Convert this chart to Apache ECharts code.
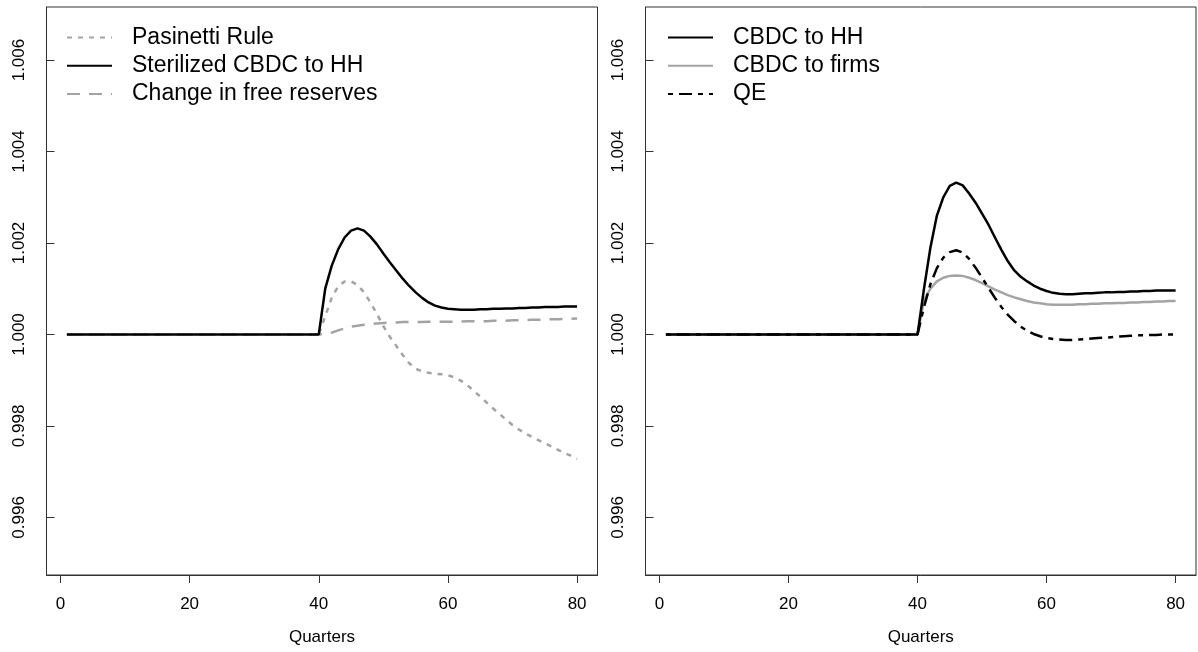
<!DOCTYPE html>
<html>
<head>
<meta charset="utf-8">
<script src="https://cdn.jsdelivr.net/npm/echarts@6/dist/echarts.min.js"></script>
<style>
html,body{margin:0;padding:0;background:#fff;}
#chart{width:1198px;height:652px;}
</style>
</head>
<body>
<div id="chart"></div>
<script>
// ---- data ----
var quarters = [1,2,3,4,5,6,7,8,9,10,11,12,13,14,15,16,17,18,19,20,
  21,22,23,24,25,26,27,28,29,30,31,32,33,34,35,36,37,38,39,40,
  41,42,43,44,45,46,47,48,49,50,51,52,53,54,55,56,57,58,59,60,
  61,62,63,64,65,66,67,68,69,70,71,72,73,74,75,76,77,78,79,80];
var xTicks = [0, 20, 40, 60, 80];
var yTicks = [0.996, 0.998, 1.000, 1.002, 1.004, 1.006];

// Left panel
var pasinetti = [1,1,1,1,1,1,1,1,1,1,1,1,1,1,1,1,1,1,1,1,
  1,1,1,1,1,1,1,1,1,1,1,1,1,1,1,1,1,1,1,1,
  1.0004,1.0008,1.00105,1.00116,1.00116,1.00108,1.00092,1.0007,1.00045,1.00018,
  0.99995,0.99975,0.99955,0.99937,0.99925,0.99919,0.99916,0.99914,0.99913,0.99911,
  0.99906,0.99899,0.99889,0.99877,0.99864,0.99851,0.99838,0.99826,0.99814,0.99802,
  0.99792,0.99783,0.99776,0.99769,0.99762,0.99755,0.99748,0.99741,0.99735,0.99728];
var sterilized = [1,1,1,1,1,1,1,1,1,1,1,1,1,1,1,1,1,1,1,1,
  1,1,1,1,1,1,1,1,1,1,1,1,1,1,1,1,1,1,1,1,
  1.0010,1.0015,1.00186,1.00212,1.00227,1.00232,1.00227,1.00214,1.00197,1.00177,
  1.00158,1.0014,1.00122,1.00106,1.00092,1.0008,1.0007,1.00063,1.00059,1.00056,
  1.00055,1.00054,1.00054,1.00054,1.00055,1.00055,1.00056,1.00056,1.00057,1.00057,
  1.00058,1.00058,1.00059,1.00059,1.0006,1.0006,1.0006,1.00061,1.00061,1.00061];
var freeReserves = [1,1,1,1,1,1,1,1,1,1,1,1,1,1,1,1,1,1,1,1,
  1,1,1,1,1,1,1,1,1,1,1,1,1,1,1,1,1,1,1,1,
  1.00001,1.00004,1.00009,1.00013,1.00017,1.00019,1.00021,1.00023,1.00024,1.00025,
  1.00026,1.00026,1.00027,1.00027,1.00027,1.00027,1.00028,1.00028,1.00028,1.00028,
  1.00028,1.00028,1.00029,1.00029,1.00029,1.00029,1.0003,1.0003,1.0003,1.00031,
  1.00031,1.00031,1.00032,1.00032,1.00033,1.00033,1.00033,1.00034,1.00034,1.00035];

// Right panel
var cbdcHH = [1,1,1,1,1,1,1,1,1,1,1,1,1,1,1,1,1,1,1,1,
  1,1,1,1,1,1,1,1,1,1,1,1,1,1,1,1,1,1,1,1,
  1.0010,1.0019,1.0026,1.0030,1.00325,1.00332,1.00326,1.00308,1.00288,1.00264,
  1.0024,1.00212,1.00185,1.0016,1.0014,1.00126,1.00116,1.00107,1.001,1.00095,
  1.00091,1.00089,1.00088,1.00088,1.00089,1.0009,1.0009,1.00091,1.00092,1.00092,
  1.00093,1.00093,1.00094,1.00094,1.00095,1.00095,1.00096,1.00096,1.00096,1.00096];
var cbdcFirms = [1,1,1,1,1,1,1,1,1,1,1,1,1,1,1,1,1,1,1,1,
  1,1,1,1,1,1,1,1,1,1,1,1,1,1,1,1,1,1,1,1,
  1.00075,1.001,1.00116,1.00124,1.00128,1.00129,1.00128,1.00124,1.00119,1.00112,
  1.00105,1.00098,1.00092,1.00086,1.00081,1.00077,1.00073,1.0007,1.00068,1.00066,
  1.00065,1.00065,1.00065,1.00065,1.00066,1.00066,1.00067,1.00067,1.00068,1.00068,
  1.00069,1.00069,1.0007,1.0007,1.00071,1.00071,1.00072,1.00072,1.00073,1.00073];
var qe = [1,1,1,1,1,1,1,1,1,1,1,1,1,1,1,1,1,1,1,1,
  1,1,1,1,1,1,1,1,1,1,1,1,1,1,1,1,1,1,1,1,
  1.0006,1.0011,1.00145,1.00168,1.0018,1.00184,1.00179,1.00165,1.00146,1.00124,
  1.00102,1.0008,1.0006,1.00043,1.00029,1.00017,1.00008,1.00001,0.99996,0.99992,
  0.9999,0.99989,0.99988,0.99988,0.99989,0.9999,0.99991,0.99992,0.99993,0.99994,
  0.99995,0.99996,0.99997,0.99998,0.99998,0.99999,0.99999,1.0,1.0,1.0];

function pairs(vals){ return quarters.map(function(q,i){ return [q, vals[i]]; }); }

var FONT = '"Liberation Sans", Arial, Helvetica, sans-serif';
var GRAY = '#a3a3a3';
var YMIN = 0.99474, YMAX = 1.00716;
var XMIN = -2.16, XMAX = 83.16;

function xAxis(idx){
  return {
    gridIndex: idx, type: 'value', min: XMIN, max: XMAX, position: 'bottom',
    name: 'Quarters', nameLocation: 'middle', nameGap: 54,
    nameTextStyle: {fontFamily: FONT, fontSize: 17, color: '#000'},
    axisLine: {show: true, onZero: false, lineStyle: {color: '#333', width: 1}},
    axisTick: {show: true, inside: false, length: 8, customValues: xTicks, lineStyle: {color: '#333', width: 1}},
    axisLabel: {customValues: xTicks, fontFamily: FONT, fontSize: 17, color: '#000', margin: 21},
    splitLine: {show: false}
  };
}
function yAxis(idx){
  return {
    gridIndex: idx, type: 'value', min: YMIN, max: YMAX, position: 'left',
    axisLine: {show: true, onZero: false, lineStyle: {color: '#333', width: 1}},
    axisTick: {show: true, inside: true, length: 8, customValues: yTicks, lineStyle: {color: '#333', width: 1}},
    axisLabel: {customValues: yTicks, rotate: 90, inside: false, fontFamily: FONT, fontSize: 17, color: '#000', margin: 19,
      formatter: function(v){ return v.toFixed(3); }},
    splitLine: {show: false}
  };
}
function line(name, vals, xi, color, type, width){
  return {
    name: name, type: 'line', xAxisIndex: xi, yAxisIndex: xi,
    data: pairs(vals), symbol: 'none', showSymbol: false, smooth: false,
    silent: true, animation: false,
    lineStyle: {color: color, width: width, type: type, cap: 'butt'},
    itemStyle: {color: color}
  };
}
function legend(left, names){
  return {
    orient: 'vertical', left: left, top: 21, itemWidth: 45, itemHeight: 14, itemGap: 5.3,
    selectedMode: false,
    itemStyle: {opacity: 0, color: 'rgba(0,0,0,0)', borderWidth: 0},
    textStyle: {fontFamily: FONT, fontSize: 23, lineHeight: 23, color: '#000', padding: [0,0,0,15]},
    data: names
  };
}

var chart = echarts.init(document.getElementById('chart'), null, {renderer: 'canvas'});
chart.setOption({
  backgroundColor: '#fff',
  animation: false,
  grid: [
    {left: 46.5, right: 600.5, top: 7, bottom: 77, show: true, borderColor: '#333', borderWidth: 1, backgroundColor: 'transparent'},
    {left: 645.5, right: 2, top: 7, bottom: 77, show: true, borderColor: '#333', borderWidth: 1, backgroundColor: 'transparent'}
  ],
  xAxis: [xAxis(0), xAxis(1)],
  yAxis: [yAxis(0), yAxis(1)],
  legend: [
    legend(61, ['Pasinetti Rule', 'Sterilized CBDC to HH', 'Change in free reserves']),
    legend(662, ['CBDC to HH', 'CBDC to firms', 'QE'])
  ],
  series: [
    line('Pasinetti Rule', pasinetti, 0, GRAY, [5, 6], 2.5),
    line('Change in free reserves', freeReserves, 0, GRAY, [13, 9], 2.5),
    line('Sterilized CBDC to HH', sterilized, 0, '#000', 'solid', 2.5),
    line('CBDC to firms', cbdcFirms, 1, GRAY, 'solid', 2.5),
    line('QE', qe, 1, '#000', [5, 6, 13, 6], 2.5),
    line('CBDC to HH', cbdcHH, 1, '#000', 'solid', 2.5)
  ]
});
</script>
</body>
</html>
